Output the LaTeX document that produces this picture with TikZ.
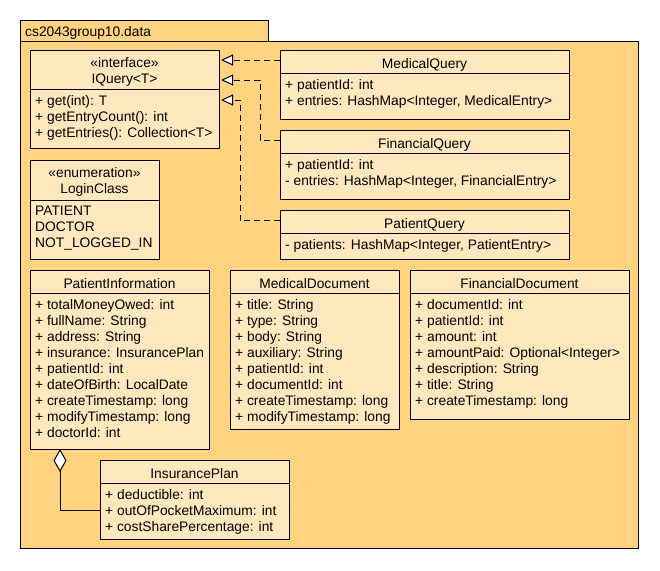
\documentclass[tikz,border=0pt]{standalone}
\usepackage{fontspec}
\setmainfont{Liberation Sans}
\usetikzlibrary{arrows.meta}

\definecolor{pkgfill}{RGB}{255,211,128}
\definecolor{clsfill}{RGB}{255,232,190}

\tikzset{
  pkgbox/.style={draw=black, fill=pkgfill, line width=1pt, anchor=north west, inner sep=0pt, outer sep=0pt},
  classbox/.style={draw=black, fill=clsfill, line width=1pt, anchor=north west, inner sep=0pt, outer sep=0pt},
  divider/.style={draw=black, line width=1pt},
  umltext/.style={font=\fontsize{13.8pt}{16pt}\selectfont, inner sep=0pt, text=black},
  umltitle/.style={umltext, anchor=base},
  umlattr/.style={umltext, anchor=base west},
  realize/.style={draw=black, line width=1pt, dash pattern=on 6pt off 4pt,
    -{Triangle[fill=white, length=12pt, width=11pt]}},
  aggregate/.style={draw=black, line width=1pt,
    {Diamond[fill=white, length=23pt, width=13pt]}-},
}

% class box with its compartment line: name, x, y, width, height, divider offset
\newcommand\umlclass[6]{%
  \node[classbox, minimum width=#4pt, minimum height=#5pt] (#1) at (#2,#3) {};
  \draw[divider] ([yshift=-#6pt]#1.north west) -- ([yshift=-#6pt]#1.north east);
}
% attribute lines: class name, first baseline offset from top, list of lines
\newcommand\umlattrs[3]{%
  \foreach \txt [count=\k] in {#3} {
    \pgfmathsetmacro{\yoff}{#2+16*(\k-1)}
    \node[umlattr] (#1-a\k) at ([xshift=5pt, yshift=-\yoff pt]#1.north west) {\txt};
  }
}

\begin{document}
\begin{tikzpicture}[x=1pt, y=-1pt]
  \fill[white] (0,0) rectangle (660,570);
  \useasboundingbox (0,0) rectangle (660,570);

  % package frame
  \node[pkgbox, minimum width=248pt, minimum height=21pt] (pkgtab) at (20,20) {};
  \node[pkgbox, minimum width=618pt, minimum height=507pt] (pkg) at (20,41) {};
  \node[umlattr] (pkg-title) at (25,36) {cs2043group10.data};

  % IQuery
  \umlclass{iq}{30}{50}{189}{98}{39}
  \node[umltitle] (iq-t1) at ([yshift=-17pt]iq.north) {«interface»};
  \node[umltitle] (iq-t2) at ([yshift=-33pt]iq.north) {IQuery<T>};
  \umlattrs{iq}{55}{+ get(int): T, + getEntryCount(): int, + getEntries(): Collection<T>}

  % MedicalQuery
  \umlclass{mq}{280}{50}{289}{69}{23}
  \node[umltitle] (mq-t) at ([yshift=-18pt]mq.north) {MedicalQuery};
  \umlattrs{mq}{39}{+ patientId: int, {+ entries: HashMap<Integer, MedicalEntry>}}

  % FinancialQuery
  \umlclass{fq}{280}{130}{289}{69}{23}
  \node[umltitle] (fq-t) at ([yshift=-18pt]fq.north) {FinancialQuery};
  \umlattrs{fq}{39}{+ patientId: int, {- entries: HashMap<Integer, FinancialEntry>}}

  % PatientQuery
  \umlclass{pq}{280}{210}{289}{49}{23}
  \node[umltitle] (pq-t) at ([yshift=-18pt]pq.north) {PatientQuery};
  \umlattrs{pq}{39}{{- patients: HashMap<Integer, PatientEntry>}}

  % LoginClass
  \umlclass{lc}{30}{160}{129}{99}{40}
  \node[umltitle] (lc-t1) at ([yshift=-17pt]lc.north) {«enumeration»};
  \node[umltitle] (lc-t2) at ([yshift=-33pt]lc.north) {LoginClass};
  \umlattrs{lc}{55}{PATIENT, DOCTOR, NOT\_LOGGED\_IN}

  % PatientInformation
  \umlclass{pi}{30}{270}{179}{179}{23}
  \node[umltitle] (pi-t) at ([yshift=-18pt]pi.north) {PatientInformation};
  \umlattrs{pi}{39}{+ totalMoneyOwed: int, + fullName: String, + address: String,
    + insurance: InsurancePlan, + patientId: int, + dateOfBirth: LocalDate,
    + createTimestamp: long, + modifyTimestamp: long, + doctorId: int}

  % MedicalDocument
  \umlclass{md}{230}{270}{169}{159}{23}
  \node[umltitle] (md-t) at ([yshift=-18pt]md.north) {MedicalDocument};
  \umlattrs{md}{39}{+ title: String, + type: String, + body: String,
    + auxiliary: String, + patientId: int, + documentId: int,
    + createTimestamp: long, + modifyTimestamp: long}

  % FinancialDocument
  \umlclass{fd}{410}{270}{219}{149}{23}
  \node[umltitle] (fd-t) at ([yshift=-18pt]fd.north) {FinancialDocument};
  \umlattrs{fd}{39}{+ documentId: int, + patientId: int, + amount: int,
    + amountPaid: Optional<Integer>, + description: String, + title: String,
    + createTimestamp: long}

  % InsurancePlan
  \umlclass{ip}{100}{460}{189}{79}{23}
  \node[umltitle] (ip-t) at ([yshift=-18pt]ip.north) {InsurancePlan};
  \umlattrs{ip}{39}{+ deductible: int, + outOfPocketMaximum: int, + costSharePercentage: int}

  % realizations of IQuery
  \coordinate (iq-r1) at ([xshift=2pt, yshift=-10pt]iq.north east);
  \coordinate (iq-r2) at ([xshift=2pt, yshift=-30pt]iq.north east);
  \coordinate (iq-r3) at ([xshift=2pt, yshift=-50pt]iq.north east);
  \draw[realize] (mq.west |- iq-r1) -- (iq-r1);
  \draw[realize] ([yshift=-10pt]fq.north west) -- ++(-20,0) |- (iq-r2);
  \draw[realize] ([yshift=-10.5pt]pq.north west) -- ++(-40,0) |- (iq-r3);

  % aggregation PatientInformation <>-- InsurancePlan
  \coordinate (pi-agg) at ([xshift=30pt]pi.south west);
  \coordinate (ip-agg) at ([yshift=-50pt]ip.north west);
  \draw[aggregate] (pi-agg) |- (ip-agg);
\end{tikzpicture}
\end{document}
